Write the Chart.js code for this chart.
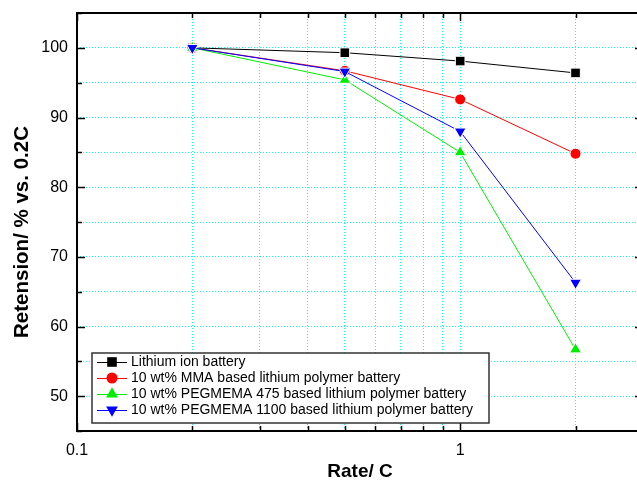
<!DOCTYPE html>
<html>
<head>
<meta charset="utf-8">
<script src="https://cdn.jsdelivr.net/npm/chart.js@4.4.1/dist/chart.umd.min.js"></script>
<style>
    html, body { margin: 0; padding: 0; background: #fff; overflow: hidden; }
    #wrap { width: 660px; height: 480px; }
</style>
</head>
<body>
<div id="wrap"><canvas id="grafico" width="660" height="480"></canvas></div>
<script>
// Taxas de descarga (C) e retenção (%) de cada bateria
const taxas = [0.2, 0.5, 1, 2];
const liIon = [100, 99.3, 98.1, 96.4];
const mma = [100, 96.7, 92.6, 84.8];
const peg475 = [100, 95.4, 85.0, 56.7];
const peg1100 = [100, 96.6, 88.0, 66.3];

const nomes = [
    'Lithium ion battery',
    '10 wt% MMA based lithium polymer battery',
    '10 wt% PEGMEMA 475 based lithium polymer battery',
    '10 wt% PEGMEMA 1100 based lithium polymer battery'
];

// Marcas dos eixos
const xTicksGrade = [0.1, 0.2, 0.3, 0.4, 0.5, 0.6, 0.7, 0.8, 0.9, 1, 2, 3];
const xTicksMaiores = [0.1, 1];
const yTicksGrade = [45, 50, 55, 60, 65, 70, 75, 80, 85, 90, 95, 100, 105];
const yTicksMaiores = [50, 60, 70, 80, 90, 100];

const tituloX = 'Rate/ C';
const tituloY = 'Retension/ % vs. 0.2C';

const FONTE = '"Liberation Sans", Arial, sans-serif';
const CIANO = '#00ffff';

function pontos(valores) {
    return taxas.map((x, i) => ({ x: x, y: valores[i] }));
}

function serie(label, valores, cor, estilo, raio, rotacao, ordem) {
    return {
        label: label,
        data: pontos(valores),
        borderColor: cor,
        backgroundColor: cor,
        borderWidth: 1,
        pointStyle: estilo,
        pointRadius: raio,
        pointRotation: rotacao,
        pointBackgroundColor: cor,
        pointBorderColor: '#ffffff',
        pointBorderWidth: 1,
        tension: 0,
        order: ordem
    };
}

// Desenha um símbolo igual ao dos pontos (usado na legenda)
function desenharSimbolo(ctx, estilo, x, y, raio, rotacao, cor) {
    ctx.save();
    ctx.fillStyle = cor;
    ctx.beginPath();
    if (estilo === 'rect') {
        const s = raio * Math.SQRT1_2;
        ctx.rect(x - s, y - s, 2 * s, 2 * s);
    } else if (estilo === 'circle') {
        ctx.arc(x, y, raio, 0, Math.PI * 2);
    } else {
        let rad = rotacao * Math.PI / 180;
        for (let k = 0; k < 3; k++) {
            const px = x + Math.sin(rad) * raio;
            const py = y - Math.cos(rad) * raio;
            if (k === 0) ctx.moveTo(px, py); else ctx.lineTo(px, py);
            rad += Math.PI * 2 / 3;
        }
        ctx.closePath();
    }
    ctx.fill();
    ctx.restore();
}

// Moldura com marcas internas nos quatro lados, mais os títulos dos eixos
const moldura = {
    id: 'moldura',
    afterDatasetsDraw(chart) {
        const { ctx, chartArea: a, scales } = chart;
        ctx.save();
        ctx.strokeStyle = '#000';
        ctx.lineWidth = 1.5;
        ctx.beginPath();
        xTicksGrade.forEach(v => {
            const px = Math.round(scales.x.getPixelForValue(v)) + 0.5;
            const len = xTicksMaiores.includes(v) ? 8 : 5;
            ctx.moveTo(px, a.bottom); ctx.lineTo(px, a.bottom - len);
            ctx.moveTo(px, a.top); ctx.lineTo(px, a.top + len);
        });
        yTicksGrade.forEach(v => {
            const py = Math.round(scales.y.getPixelForValue(v)) + 0.5;
            const len = yTicksMaiores.includes(v) ? 8 : 5;
            ctx.moveTo(a.left, py); ctx.lineTo(a.left + len, py);
            ctx.moveTo(a.right, py); ctx.lineTo(a.right - len, py);
        });
        ctx.stroke();
        ctx.lineWidth = 2;
        ctx.strokeRect(a.left, a.top, a.right - a.left, a.bottom - a.top);

        // títulos
        ctx.fillStyle = '#000';
        ctx.textAlign = 'center';
        ctx.textBaseline = 'middle';
        ctx.font = 'bold 19px ' + FONTE;
        ctx.fillText(tituloX, (a.left + a.right) / 2, 472);
        ctx.translate(22, 232);
        ctx.rotate(-Math.PI / 2);
        ctx.font = 'bold 20.5px ' + FONTE;
        ctx.fillText(tituloY, 0, 0);
        ctx.restore();
    }
};

// Legenda em caixa dentro da área do gráfico
const legendaInterna = {
    id: 'legendaInterna',
    afterDraw(chart) {
        const { ctx, chartArea: a } = chart;
        const x0 = a.left + 15, y0 = a.bottom - 78, w = 397, h = 70, passo = 16;
        ctx.save();
        ctx.fillStyle = '#fff';
        ctx.fillRect(x0, y0, w, h);
        ctx.strokeStyle = '#333';
        ctx.lineWidth = 1.5;
        ctx.strokeRect(x0, y0, w, h);
        ctx.font = '14px ' + FONTE;
        ctx.textBaseline = 'middle';
        chart.data.datasets.forEach((ds, i) => {
            const cy = y0 + 9 + i * passo;
            ctx.strokeStyle = ds.borderColor;
            ctx.lineWidth = 1;
            ctx.beginPath();
            ctx.moveTo(x0 + 5, cy + 0.5);
            ctx.lineTo(x0 + 35, cy + 0.5);
            ctx.stroke();
            desenharSimbolo(ctx, ds.pointStyle, x0 + 20, cy, ds.pointRadius, ds.pointRotation, ds.borderColor);
            ctx.fillStyle = '#000';
            ctx.fillText(ds.label, x0 + 39, cy);
        });
        ctx.restore();
    }
};

new Chart(document.getElementById('grafico'), {
    type: 'line',
    data: {
        datasets: [
            serie(nomes[0], liIon, '#000000', 'rect', 6.8, 0, 3),
            serie(nomes[1], mma, '#ff0000', 'circle', 5.5, 0, 2),
            serie(nomes[2], peg475, '#00ee00', 'triangle', 6.8, 0, 1),
            serie(nomes[3], peg1100, '#0000ff', 'triangle', 6.8, 180, 0)
        ]
    },
    options: {
        responsive: false,
        animation: false,
        layout: { padding: { top: 13, right: 17, left: 0, bottom: 0 } },
        plugins: {
            legend: { display: false },
            tooltip: { enabled: false }
        },
        scales: {
            x: {
                type: 'logarithmic',
                min: 0.1,
                max: 3,
                afterBuildTicks: scale => {
                    scale.ticks = xTicksGrade.map(v => ({ value: v }));
                },
                afterFit: scale => {
                    scale.height = 49;
                    scale.paddingLeft = 0;
                    scale.paddingRight = 0;
                },
                grid: { color: CIANO, lineWidth: 1, drawTicks: false },
                border: { display: false, dash: [1, 2] },
                ticks: {
                    autoSkip: false,
                    maxRotation: 0,
                    padding: 10,
                    color: '#000',
                    font: { family: FONTE, size: 16 },
                    callback: v => xTicksMaiores.includes(v) ? String(v) : ''
                }
            },
            y: {
                min: 45,
                max: 105,
                afterBuildTicks: scale => {
                    scale.ticks = yTicksGrade.map(v => ({ value: v }));
                },
                afterFit: scale => {
                    scale.width = 77;
                    scale.paddingTop = 0;
                    scale.paddingBottom = 0;
                },
                grid: { color: CIANO, lineWidth: 1, drawTicks: false },
                border: { display: false, dash: [1, 2] },
                ticks: {
                    padding: 9,
                    color: '#000',
                    font: { family: FONTE, size: 16 },
                    callback: v => yTicksMaiores.includes(v) ? String(v) : ''
                }
            }
        }
    },
    plugins: [moldura, legendaInterna]
});
</script>
</body>
</html>
